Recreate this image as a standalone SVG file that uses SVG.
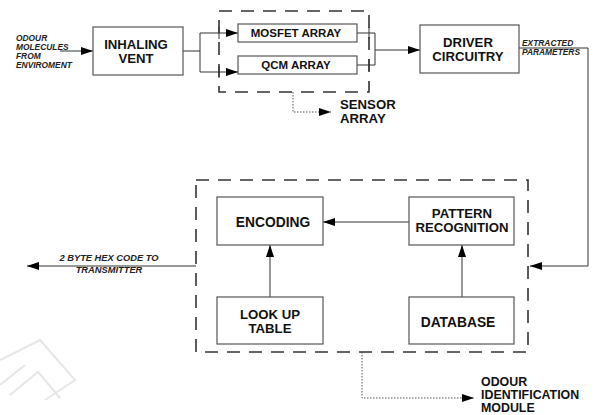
<svg xmlns="http://www.w3.org/2000/svg" width="595" height="415" viewBox="0 0 595 415">
<defs>
<marker id="ah" markerWidth="12" markerHeight="8" refX="12" refY="4" orient="auto" markerUnits="userSpaceOnUse">
<path d="M0,0 L12,4 L0,8 Z" fill="#000"/>
</marker>
<style>
.box{fill:#fff;stroke:#555;stroke-width:1.2}
.dash{fill:none;stroke:#333;stroke-width:1.6;stroke-dasharray:13 9}
.ln{fill:none;stroke:#333;stroke-width:1}
.dot{fill:none;stroke:#555;stroke-width:1;stroke-dasharray:1.5 1.5}
.t{font-family:"Liberation Sans",Arial,sans-serif;font-weight:bold;fill:#111;text-anchor:middle}
.s{text-anchor:start}
.big{font-size:13.8px}
.two{font-size:13.2px}
.three{font-size:12.4px}
.mid{font-size:11.5px}
.it{font-family:"Liberation Sans",Arial,sans-serif;font-weight:bold;font-style:italic;font-size:9.3px;fill:#222}
.sm{font-size:8.4px}
</style>
</defs>
<rect width="595" height="415" fill="#fff"/>
<g id="watermark" fill="none" stroke="#e6e6e6" stroke-width="2">
<path d="M0,360 L40,340 L75,380 L45,400"/>
<path d="M10,395 L38,372 L60,398"/>
<path d="M0,385 L25,365"/>
</g>
<g id="sensor-array-box">
<rect class="dash" x="219" y="11" width="150" height="81"/>
</g>
<g id="odis-module-box">
<rect class="dash" x="196" y="180" width="332" height="172"/>
</g>
<g id="connectors">
<line class="ln" x1="60" y1="51" x2="93" y2="51" marker-end="url(#ah)"/>
<polyline class="ln" points="183,51 200,51"/>
<polyline class="ln" points="200,33 200,72"/>
<line class="ln" x1="200" y1="33" x2="238" y2="33" marker-end="url(#ah)"/>
<line class="ln" x1="200" y1="72" x2="238" y2="72" marker-end="url(#ah)"/>
<line class="ln" x1="219" y1="27" x2="219" y2="39"/>
<line class="ln" x1="219" y1="66" x2="219" y2="78"/>
<polyline class="ln" points="357,33 375,33 375,65 357,65"/>
<line class="ln" x1="369" y1="27" x2="369" y2="39"/>
<line class="ln" x1="369" y1="59" x2="369" y2="71"/>
<line class="ln" x1="375" y1="50" x2="420" y2="50" marker-end="url(#ah)"/>
<polyline class="ln" points="519,48 588,48 588,266 530,266" marker-end="url(#ah)"/>
<polyline class="dot" points="293,92 293,112 331,112" marker-end="url(#ah)"/>
<line class="ln" x1="409" y1="222" x2="323" y2="222" marker-end="url(#ah)"/>
<line class="ln" x1="270" y1="297" x2="270" y2="245" marker-end="url(#ah)"/>
<line class="ln" x1="462" y1="297" x2="462" y2="245" marker-end="url(#ah)"/>
<line class="ln" x1="196" y1="266" x2="27" y2="266" marker-end="url(#ah)"/>
<polyline class="dot" points="362,352 362,398 474,398" marker-end="url(#ah)"/>
</g>
<g id="input-label">
<text class="it sm" x="16" y="41">ODOUR</text>
<text class="it sm" x="16" y="50">MOLECULES</text>
<text class="it sm" x="16" y="59">FROM</text>
<text class="it sm" x="16" y="68">ENVIROMENT</text>
</g>
<g id="inhaling-vent">
<rect class="box" x="93" y="27" width="90" height="48"/>
<text class="t two" x="136" y="49">INHALING</text>
<text class="t two" x="136" y="63">VENT</text>
</g>
<g id="mosfet-array">
<rect class="box" x="238" y="24" width="119" height="18"/>
<text class="t mid" x="296" y="37">MOSFET ARRAY</text>
</g>
<g id="qcm-array">
<rect class="box" x="238" y="56" width="119" height="18"/>
<text class="t mid" x="296" y="69">QCM ARRAY</text>
</g>
<g id="sensor-array-label">
<text class="t two s" x="340" y="109">SENSOR</text>
<text class="t two s" x="340" y="123">ARRAY</text>
</g>
<g id="driver-circuitry">
<rect class="box" x="420" y="25" width="99" height="48"/>
<text class="t two" x="468" y="47">DRIVER</text>
<text class="t two" x="468" y="61">CIRCUITRY</text>
</g>
<g id="extracted-label">
<text class="it sm" x="522" y="46">EXTRACTED</text>
<text class="it sm" x="522" y="55">PARAMETERS</text>
</g>
<g id="encoding">
<rect class="box" x="217" y="197" width="106" height="48"/>
<text class="t big" x="273" y="227">ENCODING</text>
</g>
<g id="pattern-recognition">
<rect class="box" x="409" y="197" width="105" height="48"/>
<text class="t two" x="462" y="218">PATTERN</text>
<text class="t two" x="462" y="232">RECOGNITION</text>
</g>
<g id="look-up-table">
<rect class="box" x="217" y="297" width="106" height="47"/>
<text class="t two" x="270" y="319">LOOK UP</text>
<text class="t two" x="270" y="333">TABLE</text>
</g>
<g id="database">
<rect class="box" x="409" y="297" width="105" height="47"/>
<text class="t big" x="458" y="327">DATABASE</text>
</g>
<g id="output-label">
<text class="it" x="109" y="261" text-anchor="middle">2 BYTE HEX CODE TO</text>
<text class="it" x="109" y="273" text-anchor="middle">TRANSMITTER</text>
</g>
<g id="odis-label">
<text class="t three s" x="481" y="386">ODOUR</text>
<text class="t three s" x="481" y="399">IDENTIFICATION</text>
<text class="t three s" x="481" y="412">MODULE</text>
</g>
</svg>
